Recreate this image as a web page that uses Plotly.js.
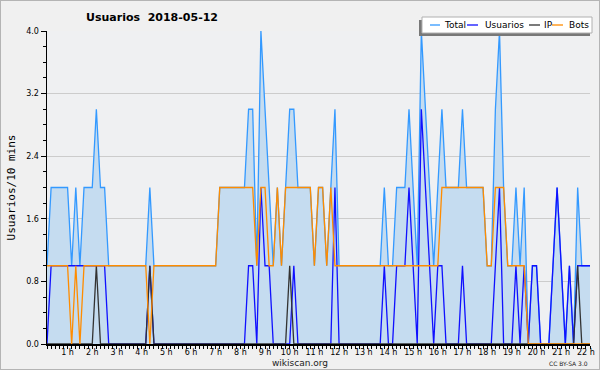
<!DOCTYPE html>
<html>
<head>
<meta charset="utf-8">
<script src="https://cdn.plot.ly/plotly-3.0.1.min.js"></script>
<style>
html,body{margin:0;padding:0;background:#f0f0f0;}
#wrap{position:relative;width:600px;height:370px;}
#chart{width:600px;height:370px;}
#frame{position:absolute;left:0;top:0;width:600px;height:370px;box-sizing:border-box;border:1px solid #b4b4b4;pointer-events:none;}
</style>
</head>
<body>
<div id="wrap"><div id="chart"></div><div id="frame"></div></div>
<script>
// 10-minute samples, 00:10 .. 22:10
const usuarios = [
 0,1,1,1,1,1,1,1,1,1,
 1,1,1,1,1,0,0,0,0,0,
 0,0,0,0,0,1,0,0,0,0,
 0,0,0,0,0,0,0,0,0,0,
 0,0,0,0,0,0,0,0,0,1,
 1,0,2,1,1,0,0,0,0,0,
 1,0,0,0,0,0,0,0,0,0,
 2,0,0,0,0,0,0,0,0,0,
 0,0,1,0,0,1,1,1,2,1,
 0,3,2,1,0,1,1,0,0,0,
 0,1,0,0,0,0,0,0,0,1,
 2,0,0,0,1,0,1,0,1,1,
 0,0,0,1,2,1,0,1,0,1,
 1,1,1];
const ip = [
 0,0,0,0,0,0,0,0,0,0,
 0,0,1,0,0,0,0,0,0,0,
 0,0,0,0,0,1,0,0,0,0,
 0,0,0,0,0,0,0,0,0,0,
 0,0,0,0,0,0,0,0,0,0,
 0,0,0,0,0,0,0,0,0,1,
 0,0,0,0,0,0,0,0,0,0,
 0,0,0,0,0,0,0,0,0,0,
 0,0,0,0,0,0,0,0,0,0,
 0,0,0,0,0,0,0,0,0,0,
 0,0,0,0,0,0,0,0,0,0,
 0,0,0,0,0,0,0,0,0,0,
 0,0,0,0,0,0,0,0,0,1,
 0,0,0];
const bots = [
 1,1,1,1,1,1,0,1,0,1,
 1,1,1,1,1,1,1,1,1,1,
 1,1,1,1,1,0,1,1,1,1,
 1,1,1,1,1,1,1,1,1,1,
 1,1,2,2,2,2,2,2,2,2,
 2,1,2,2,1,1,2,1,2,2,
 2,2,2,2,2,1,2,2,1,2,
 1,1,1,1,1,1,1,1,1,1,
 1,1,1,1,1,1,1,1,1,1,
 1,1,1,1,1,1,2,2,2,2,
 2,2,2,2,2,2,2,1,1,2,
 2,2,1,1,1,1,1,0,0,0,
 0,0,0,0,0,0,0,0,0,0,
 0,0,0];
const total = [
 1,2,2,2,2,2,1,2,1,2,
 2,2,3,2,2,1,1,1,1,1,
 1,1,1,1,1,2,1,1,1,1,
 1,1,1,1,1,1,1,1,1,1,
 1,1,2,2,2,2,2,2,2,3,
 3,1,4,3,2,1,2,1,2,3,
 3,2,2,2,2,1,2,2,1,2,
 3,1,1,1,1,1,1,1,1,1,
 1,1,2,1,1,2,2,2,3,2,
 1,4,3,2,1,2,3,2,2,2,
 2,3,2,2,2,2,2,1,1,3,
 4,2,1,1,2,1,2,0,1,1,
 0,0,0,1,2,1,0,1,0,2,
 1,1,1];
const hourTicks = [1,2,3,4,5,6,7,8,9,10,11,12,13,14,15,16,17,18,19,20,21,22];
const hourLabels = hourTicks.map(h => h + ' h');
const yTicks = [0, 0.8, 1.6, 2.4, 3.2, 4.0];
const yLabels = ['0.0','0.8','1.6','2.4','3.2','4.0'];
const seriesNames = ['Total','Usuarios','IP','Bots'];
const seriesColors = ['#3399ff','#1010ff','#333333','#ff8c00'];

// time of each sample in hours (sample i ends at (i+1)*10 min)
const times = total.map((_, i) => (i + 1) / 6);

const W = 600, H = 370, ml = 47, mr = 10, mt = 31, mb = 26;
const pw = W - ml - mr, ph = H - mt - mb;
const px = x => (x - ml) / pw;
const py = y => 1 - (y - mt) / ph;

const font = 'DejaVu Sans, sans-serif';

const traces = [
  {x: times, y: total, name: seriesNames[0], mode: 'lines', fill: 'tozeroy',
   fillcolor: '#c5dcf0', line: {color: seriesColors[0], width: 1.3}},
  {x: times, y: usuarios, name: seriesNames[1], mode: 'lines', line: {color: seriesColors[1], width: 1.3}},
  {x: times, y: ip, name: seriesNames[2], mode: 'lines', line: {color: seriesColors[2], width: 1.3}},
  {x: times, y: bots, name: seriesNames[3], mode: 'lines', line: {color: seriesColors[3], width: 1.3}}
].map(t => Object.assign(t, {showlegend: false, hoverinfo: 'skip'}));

// custom legend (box + shadow + samples + labels)
const legBox = {x0: 422, y0: 17, x1: 592, y1: 33};
const legItems = [
  {sx0: 430, sx1: 440, tx: 442},
  {sx0: 467, sx1: 478, tx: 483},
  {sx0: 529, sx1: 540, tx: 542},
  {sx0: 552, sx1: 563, tx: 567}
];
const legY = 25;

const shapes = [
  {type: 'rect', xref: 'paper', yref: 'paper', layer: 'above',
   x0: px(legBox.x0 - 3), x1: px(legBox.x1 - 2), y0: py(legBox.y0 + 3), y1: py(legBox.y1 + 3),
   fillcolor: '#787878', line: {width: 0}},
  {type: 'rect', xref: 'paper', yref: 'paper', layer: 'above',
   x0: px(legBox.x0), x1: px(legBox.x1), y0: py(legBox.y0), y1: py(legBox.y1),
   fillcolor: '#ffffff', line: {color: '#b0b0b0', width: 1}}
];
const annotations = [];
legItems.forEach((it, k) => {
  shapes.push({type: 'line', xref: 'paper', yref: 'paper', layer: 'above',
    x0: px(it.sx0), x1: px(it.sx1), y0: py(legY), y1: py(legY),
    line: {color: seriesColors[k], width: 1.3}});
  annotations.push({xref: 'paper', yref: 'paper', x: px(it.tx), y: py(legY),
    xanchor: 'left', yanchor: 'middle', showarrow: false, text: seriesNames[k],
    font: {family: font, size: 9, color: '#000'}});
});
annotations.push({xref: 'paper', yref: 'paper', x: px(300), y: py(362.5), xanchor: 'center', yanchor: 'middle',
  showarrow: false, text: 'wikiscan.org', font: {family: font, size: 9, color: '#222'}});
annotations.push({xref: 'paper', yref: 'paper', x: px(568), y: py(363.5), xanchor: 'center', yanchor: 'middle',
  showarrow: false, text: 'CC BY-SA 3.0', font: {family: font, size: 6, color: '#222'}});

const layout = {
  width: W, height: H,
  margin: {l: ml, r: mr, t: mt, b: mb, pad: 0},
  paper_bgcolor: '#f0f0f0',
  plot_bgcolor: '#eff0f2',
  showlegend: false,
  title: {text: 'Usuarios\u00a0 2018-05-12', xref: 'container', yref: 'container',
    x: 152 / W, y: 1 - 17 / H, xanchor: 'center', yanchor: 'middle',
    font: {family: font, size: 11, weight: 'bold', color: '#000'}},
  xaxis: {
    range: [1 / 6, 133 / 6], tickmode: 'array', tickvals: hourTicks, ticktext: hourLabels,
    showgrid: false, zeroline: false, showline: true, linecolor: '#000', linewidth: 1.5,
    ticks: 'outside', ticklen: 3, tickcolor: '#000', tickwidth: 1,
    ticklabelstandoff: -3,
    tickfont: {family: font, size: 8, color: '#000'},
    minor: {tickmode: 'linear', tick0: 0, dtick: 1 / 6, ticks: 'outside', ticklen: 3, tickcolor: '#000', showgrid: false},
    fixedrange: true
  },
  yaxis: {
    range: [0, 4], tickmode: 'array', tickvals: yTicks, ticktext: yLabels,
    showgrid: true, gridcolor: '#cccccc', gridwidth: 1, zeroline: false,
    showline: true, linecolor: '#000', linewidth: 1.5,
    ticks: 'outside', ticklen: 5, tickcolor: '#000', tickwidth: 1,
    tickfont: {family: font, size: 8, color: '#000'},
    minor: {tickmode: 'linear', tick0: 0, dtick: 0.2, ticks: 'outside', ticklen: 3, tickcolor: '#000', showgrid: false},
    title: {text: 'Usuarios/10 mins', standoff: 8, font: {family: 'DejaVu Sans Mono, monospace', size: 11, color: '#000'}},
    fixedrange: true
  },
  shapes: shapes,
  annotations: annotations
};

Plotly.newPlot('chart', traces, layout, {displayModeBar: false, staticPlot: true});
</script>
</body>
</html>
